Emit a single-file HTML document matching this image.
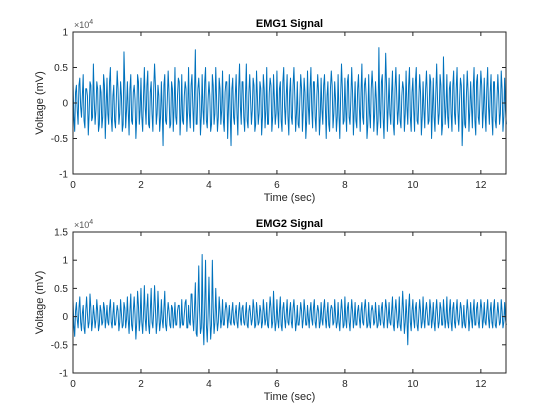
<!DOCTYPE html>
<html><head><meta charset="utf-8"><style>
body{margin:0;background:#fff;width:560px;height:420px;overflow:hidden}
svg{display:block;font-family:"Liberation Sans",Arial,sans-serif}
</style></head><body>
<svg id="fig" width="560" height="420"></svg>
<script>
const emg1Values=[3,-4,2.5,-3,3.5,-2,4,-3.5,2,-4.5,3,-2.5,5.5,-3,3,-4,2.5,-3.5,4,-5,
3.5,-3,5,-4,2.5,-3.5,4.5,-3,3,-4,7.2,-3.5,3,-4.5,4,-3,2.5,-5,4,-3,
3.5,-4,5,-3,4.5,-3.5,3,-4,5.5,-3,2.5,-4,3,-6,4,-3,4.5,-3.5,3,-4,
5,-3,3.5,-4.5,4,-3,3,-4,5,-3.5,4,-4,7.5,-3,3.5,-4.5,4,-3,5,-3.5,
3,-4,4,-3,5,-4,3.5,-3,4.5,-4,3,-5,4,-6,3.5,-3,4,-4.5,5.5,-3,
3,-4,5.5,-3.5,4,-3,3.5,-4,4.5,-3,3,-4.5,4,-3.5,5,-3,3.5,-4,4,-3,
4.5,-3.5,3,-4,5,-3,4,-4.5,3.5,-3,5,-4,3,-3.5,4,-4,3.5,-5,4.5,-3,
5,-3.5,3,-4,4,-4.5,3.5,-3,4,-5,3,-4,4.5,-3.5,3,-4,4,-5,5.5,-3,
3.5,-4,4,-3,5,-4.5,3,-3.5,4,-4,5.5,-3,3.5,-5,4,-3.5,4.5,-4,3,-4.5,
7.8,-3.5,4,-5,7,-4,3.5,-3,4.5,-4.5,5,-3,4,-3.5,3,-4,4.5,-3,5,-4,
3.5,-4,5,-3,4,-4.5,3,-3.5,4.5,-3,4,-5,3.5,-4,5.5,-3,4,-4.5,6.5,-3,
4,-3.5,3,-4,4.5,-3,5,-4,3.5,-6,4,-3.5,4.5,-4,3,-3.5,5,-4.5,4,-3,
4.5,-3.5,3.5,-4,5,-3,4,-4.5,3,-3.5,4,-3,4.5,-4,3.5,-3];
const emg1Between=[-2,1.5,-1,2.5,-0.5,1,-2.5,2,1,-1.5,2.5,-2,0.5,-1,2,-3,
1.5,-2,2.5,-0.5,-1.5,3,-2,1,-2.5,0.5,2,-1.5,1,-3,2.5,-1,
-1,2,-2.5,1.5,0.5,-2,3,-1,-2,1,-0.5,2.5,-3,1.5,-1.5,2,
2.5,-1.5,1,-2,-1,2.5,-2.5,0.5,1.5,-3,2,-0.5,-2,1,3,-1.5,
-2.5,1,2,-1,-1.5,2.5,-0.5,1.5,-3,2,1,-2,-1,3,-2.5,0.5,
1,-3,2.5,-1.5,0.5,-2,2,-1,-2.5,1.5,3,-0.5,-1.5,2,-2,1,
-1.5,2,-0.5,3,-2,1,-2.5,1.5,0.5,-1,2.5,-3,1,-1.5,2,-2,
2,-1,-3,1.5,2.5,-2,0.5,-1.5,-1,2,-2.5,3,-0.5,1,-2,1.5,
-2,2.5,1,-1.5,-3,0.5,2,-1,1.5,-2.5,-0.5,2,-1,3,-2,1,
1.5,-2,-1,2.5,-0.5,1,-3,2,2.5,-1.5,0.5,-2,-1.5,1,2,-2.5,
-1,3,-2,0.5,1.5,-1,-2.5,2,-0.5,1.5,-2,2.5,1,-3,-1.5,2,
2,-1.5,0.5,-2.5,-1,3,-2,1,2.5,-0.5,-1.5,1.5,-3,2,1,-1,
-2.5,1,2,-1.5,-0.5,2.5,-2,1.5,-1,3,-2.5,0.5,1.5,-2,-1,2,
1,-2.5,3,-1,-2,1.5,0.5,-1.5,2.5,-3,1,-0.5,-2,2,-1.5,2.5,
-1.5,2,-1,0.5,2.5,-2,-3,1,1.5,-1,-0.5,2,-2.5,3,-2,1,
2.5,-1,-1.5,2,-0.5,1.5,-2,3,-2.5,0.5,1,-1.5,2,-2,-1,1.5];
const emg2Values=[3,-3.5,2.5,-2,3.5,-2.5,2,-3,3.5,-2,4,-2.5,2,-2,3,-2.5,2,-1.5,2.5,-2,
2,-1.5,3,-2,2.5,-1.5,2,-2.5,3,-2,2.5,-2,3.5,-3,4,-2.5,3.5,-4,4.5,-2.5,
5,-3,5.5,-2.5,4,-3,5,-2,5.5,-3,4.5,-2.5,3,-2,4.5,-2.5,2.5,-1.5,2,-2,
2.5,-1.5,2,-2,3,-1.5,2.5,-2,2,-1.5,4,-2.5,6,-3.5,9,-3,11,-5,10,-4.5,
7,-4,10,-3,5,-2.5,3.5,-2,3,-1.5,2.5,-2,2,-1.5,2.5,-1.5,2,-2,2.5,-1.5,
2,-1.5,2.5,-2,2,-1.5,3,-2,2.5,-1.5,2,-2,3,-1.5,2.5,-2,3.5,-2,4.5,-2.5,
3,-2,3.5,-2.5,2.5,-2,3,-1.5,2.5,-2,3,-2.5,2,-1.5,2.5,-2,3,-1.5,2,-2,
2.5,-1.5,3,-2,2,-2,2.5,-1.5,3,-2,2.5,-2,2,-1.5,3,-2,2.5,-2.5,3,-2,
3.5,-2,2.5,-2.5,3,-2,2.5,-1.5,2,-2,2.5,-1.5,3,-2,2.5,-2,2,-1.5,2.5,-2,
2,-1.5,2.5,-2,3,-2,2.5,-1.5,3.5,-2.5,3,-2,3.5,-2.5,4.5,-3,3,-5,4,-2.5,
3,-2,2.5,-2.5,3,-2,3.5,-2,2.5,-1.5,3,-2,2.5,-2.5,3,-2,2.5,-1.5,3,-2,
3.5,-2,3,-2.5,2.5,-2,3,-1.5,2.5,-2,2,-2,3,-2.5,2.5,-2,3,-1.5,2.5,-2,
3,-2,2.5,-1.5,3,-2,2.5,-2,3,-2,2.5,-1.5,3,-2,2.5,-1.5];
const emg2Between=[-1.5,1,-0.5,1.5,-1,0.5,-2,1,0.5,-1,1.5,-1,0.3,-0.5,1,-1.5,
1,-1,1.5,-0.3,-1,1.5,-1,0.5,-1.5,0.3,1,-1,0.5,-1.5,1.5,-0.5,
-0.5,1,-1.5,1,0.3,-1,2,-0.5,-1,0.5,-0.3,1.5,-1.5,1,-1,1,
1.5,-1,0.5,-1,-0.5,1.5,-1.5,0.3,1,-2,1.5,-0.3,-1.5,1,2,-1,
-1.5,0.5,3,-2,-1,4,-0.5,1.5,-3,2,1,-2,-1,2,-1.5,0.3,
0.5,-1.5,1.5,-1,0.3,-1,1,-0.5,-1.5,1,1.5,-0.3,-1,1,-1,0.5,
-1,1,-0.3,1.5,-1,0.5,-1.5,1,0.3,-0.5,1.5,-1.5,0.5,-1,1,-1,
1,-0.5,-1.5,1,1.5,-1,0.3,-1,-0.5,1,-1.5,1.5,-0.3,0.5,-1,1,
-1,1.5,0.5,-1,-1.5,0.3,1,-0.5,1,-1.5,-0.3,1,-0.5,1.5,-1,0.5,
1,-1,-0.5,1.5,-0.3,0.5,-1.5,1,1.5,-1,0.3,-1,-1,0.5,1,-1.5,
-0.5,1.5,-1,0.3,1,-0.5,-1.5,1,-0.3,1,-1,1.5,0.5,-1.5,-1,1,
1,-1,0.3,-1.5,-0.5,1.5,-1,0.5,1.5,-0.3,-1,1,-1.5,1,0.5,-0.5,
-1.5,0.5,1,-1,-0.3,1.5,-1,1,-0.5,1.5,-1.5,0.3,1,-1,-0.5,1,
0.5,-1.5,1.5,-0.5,-1,1,0.3,-1,1.5,-1.5,0.5,-0.3,-1,1,-1,1.5,
-1,1,-0.5,0.3,1.5,-1,-1.5,0.5,1,-0.5,-0.3,1,-1.5,1.5,-1,0.5,
1.5,-0.5,-1,1,-0.3,1,-1,1.5,-1.5,0.3,0.5,-1,1,-1,-0.5,1];
const sampleStep=0.05;
const xTicks=[0,2,4,6,8,10,12];
const yTicks1=[-1,-0.5,0,0.5,1];
const yTicks2=[-1,-0.5,0,0.5,1,1.5];
const NS="http://www.w3.org/2000/svg";
const svg=document.getElementById('fig');
function mk(tag,attrs,parent){const e=document.createElementNS(NS,tag);for(const k in attrs)e.setAttribute(k,attrs[k]);(parent||svg).appendChild(e);return e;}
function panel(name,top,bottom,ymin,ymax,yTicks,values,between,title){
  const L=73,R=506,xmax=12.74;
  const g=mk('g',{});
  
  
  const sx=t=>L+(t/xmax)*(R-L);
  const sy=v=>bottom-(v-ymin)/(ymax-ymin)*(bottom-top);
  const pts=[];
  values.forEach((v,i)=>{
    pts.push(sx(i*sampleStep).toFixed(2)+','+sy(v/10).toFixed(2));
    if(i<between.length && i<values.length-1) pts.push(sx((i+0.5)*sampleStep).toFixed(2)+','+sy(between[i]/10).toFixed(2));
  });
  const line=mk('polyline',{points:pts.join(' '),fill:'none',stroke:'#0072BD','stroke-width':'1','stroke-linejoin':'round'},g);
  
  
  const box=mk('rect',{x:L,y:top,width:R-L,height:bottom-top,fill:'none',stroke:'#262626','stroke-width':'1'},g);
  
  
  xTicks.forEach(t=>{const x=sx(t);
    mk('line',{x1:x,x2:x,y1:bottom,y2:bottom-4,stroke:'#262626'},g);
    mk('line',{x1:x,x2:x,y1:top,y2:top+4,stroke:'#262626'},g);
    const tx=mk('text',{x:x,y:bottom+14,'font-size':'10','text-anchor':'middle',fill:'#262626'},g);
    tx.textContent=t;
    
    
  });
  yTicks.forEach(v=>{const y=sy(v);
    mk('line',{x1:L,x2:L+4,y1:y,y2:y,stroke:'#262626'},g);
    mk('line',{x1:R,x2:R-4,y1:y,y2:y,stroke:'#262626'},g);
    const tx=mk('text',{x:L-5,y:y+3.5,'font-size':'10','text-anchor':'end',fill:'#262626'},g);
    tx.textContent=v;
    
    
  });
  const ex=mk('text',{x:L+1,y:top-4,'font-size':'9',fill:'#555'},g);
  ex.innerHTML='×10<tspan dy="-4" font-size="7">4</tspan>';
  
  
  const ti=mk('text',{x:(L+R)/2,y:top-5,'font-size':'11','font-weight':'bold','text-anchor':'middle',fill:'#000'},g);
  ti.textContent=title;
  
  
  const xl=mk('text',{x:(L+R)/2,y:bottom+27,'font-size':'11','text-anchor':'middle',fill:'#262626'},g);
  xl.textContent='Time (sec)';
  
  
  const cy=(top+bottom)/2;
  const yl=mk('text',{x:0,y:0,'font-size':'11','text-anchor':'middle',fill:'#262626',transform:`translate(43,${cy}) rotate(-90)`},g);
  yl.textContent='Voltage (mV)';
  
  
}
panel('emg1-panel',32,174,-1,1,yTicks1,emg1Values,emg1Between,'EMG1 Signal');
panel('emg2-panel',232,373,-1,1.5,yTicks2,emg2Values,emg2Between,'EMG2 Signal');
</script>
</body></html>
